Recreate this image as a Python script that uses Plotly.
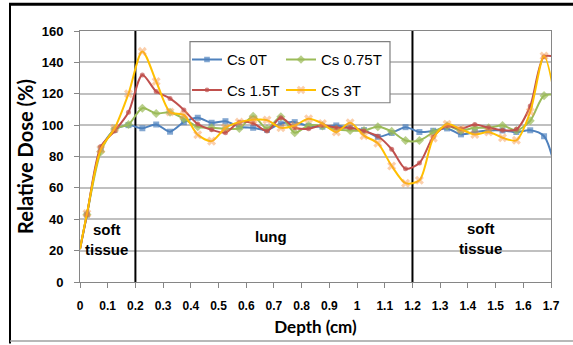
import plotly.graph_objects as go

# ---------------- data ----------------
depth = [0.0, 0.025, 0.075, 0.125, 0.175, 0.225, 0.275, 0.325, 0.375, 0.425, 0.475,
         0.525, 0.575, 0.625, 0.675, 0.725, 0.775, 0.825, 0.875, 0.925, 0.975,
         1.025, 1.075, 1.125, 1.175, 1.225, 1.275, 1.325, 1.375, 1.425, 1.475,
         1.525, 1.575, 1.625, 1.675, 1.725]

cs_0T = [21, 43, 85, 97, 100, 98, 100.4, 95.8, 101.9, 104.7, 101.5, 102.5, 99, 98.3,
         97, 101, 101.9, 99.4, 99, 99.8, 98.3, 96.8, 92.5, 95, 98.7, 95.6, 96.4, 97.9,
         94.1, 95.6, 96.6, 96.6, 95.6, 96.7, 92.9, 65]
cs_075T = [21, 43, 83, 97.5, 100.4, 110.8, 107.4, 108.2, 104, 99, 98.3, 97.7, 97.9,
           105.7, 97.7, 105.3, 95.2, 99.8, 99.5, 97.3, 96.6, 96.6, 99, 96, 90.2, 90.2,
           95.4, 99.5, 96.6, 98.3, 98.3, 99.8, 96.6, 102.8, 118.8, 119]
cs_15T = [21, 43, 86.3, 96.2, 108.2, 132, 121.5, 117, 109.7, 100.7, 97, 95.2, 101.9,
          101.2, 96.2, 104.7, 98.3, 97.7, 100, 98.3, 98.3, 96.2, 92.9, 84.6, 72.2, 75.8,
          92.5, 99.6, 97.7, 100.4, 98.3, 96.8, 97.3, 112.2, 143.6, 143]
cs_3T = [21, 43.6, 84.6, 97.9, 120, 147, 127.8, 108.3, 106.5, 93.8, 89.8, 98.3, 101.9,
         103.4, 103.2, 98.3, 99.8, 104, 101, 95.6, 101.5, 93.3, 88.4, 74, 63, 64.8,
         91.7, 100.6, 97.3, 94.1, 95.6, 92, 90.3, 108.5, 144, 107]

series_names = ["Cs 0T", "Cs 0.75T", "Cs 1.5T", "Cs 3T"]

x_tickvals = [0, 0.1, 0.2, 0.3, 0.4, 0.5, 0.6, 0.7, 0.8, 0.9, 1.0, 1.1, 1.2, 1.3, 1.4, 1.5, 1.6, 1.7]
x_ticktext = ["0", "0.1", "0.2", "0.3", "0.4", "0.5", "0.6", "0.7", "0.8", "0.9", "1",
              "1.1", "1.2", "1.3", "1.4", "1.5", "1.6", "1.7"]
y_tickvals = [0, 20, 40, 60, 80, 100, 120, 140, 160]

boundaries = [0.2, 1.2]
region_labels = ["soft<br>tissue", "lung", "soft<br>tissue"]
region_x = [0.096, 0.69, 1.447]
region_y = [27, 29, 28]

# ---------------- layout geometry ----------------
W, H = 573, 345
ML, MR, MT, MB = 80, 22, 31, 61
PW, PH = W - ML - MR, H - MT - MB


def px_to_paper_x(px):
    return (px - ML) / PW


def px_to_paper_y(py):
    return (H - MB - py) / PH


styles = [
    dict(color="#4F81BD", symbol="square", size=6, mcolor="#4F81BD"),
    dict(color="#9BBB59", symbol="diamond", size=7, mcolor="#9BBB59"),
    dict(color="#C0504D", symbol="circle", size=5, mcolor="#C0504D"),
    dict(color="#FFC000", symbol="x", size=8, mcolor="rgba(247,150,70,0.65)"),
]
series_vals = [cs_0T, cs_075T, cs_15T, cs_3T]
legend_ids = ["legend", "legend2", "legend3", "legend4"]

fig = go.Figure()
n = len(depth)
for name, vals, st, lid in zip(series_names, series_vals, styles, legend_ids):
    sizes = [st["size"]] * n
    sizes[0] = 0
    sizes[-1] = 0
    fig.add_trace(go.Scatter(
        x=depth, y=vals, name=name, mode="lines+markers",
        line=dict(color=st["color"], width=2, shape="spline", smoothing=0.8),
        marker=dict(symbol=st["symbol"], size=sizes, color=st["mcolor"],
                    line=dict(width=0)),
        legend=lid, cliponaxis=True,
    ))

# legend positions (text x targets, row centers) in pixels
text_x = [226, 320, 226, 320]
row_y = [60, 60, 90.7, 90.7]
leg_font = dict(family="Liberation Sans, Arial, sans-serif", size=15, color="black")
legends = {}
for lid, tx, ry in zip(legend_ids, text_x, row_y):
    legends[lid] = dict(
        x=px_to_paper_x(tx - 39), xanchor="left",
        y=px_to_paper_y(ry), yanchor="middle",
        bgcolor="rgba(0,0,0,0)", borderwidth=0, font=leg_font,
        orientation="h", itemclick=False, itemdoubleclick=False,
    )

shapes = []
# legend box
shapes.append(dict(type="rect", xref="paper", yref="paper",
                   x0=px_to_paper_x(190), x1=px_to_paper_x(390),
                   y0=px_to_paper_y(103.3), y1=px_to_paper_y(41.7),
                   line=dict(color="#808080", width=1.2), fillcolor="white",
                   layer="above"))
# region boundaries
for b in boundaries:
    shapes.append(dict(type="line", xref="x", yref="y", x0=b, x1=b, y0=0, y1=160,
                       line=dict(color="black", width=2), layer="between"))
# outer frame of the picture
shapes.append(dict(type="line", xref="paper", yref="paper",
                   x0=px_to_paper_x(9), x1=px_to_paper_x(580),
                   y0=px_to_paper_y(4), y1=px_to_paper_y(4),
                   line=dict(color="black", width=3)))
shapes.append(dict(type="line", xref="paper", yref="paper",
                   x0=px_to_paper_x(10), x1=px_to_paper_x(10),
                   y0=px_to_paper_y(4), y1=px_to_paper_y(346),
                   line=dict(color="black", width=2)))
shapes.append(dict(type="line", xref="paper", yref="paper",
                   x0=px_to_paper_x(10), x1=px_to_paper_x(580),
                   y0=px_to_paper_y(343.5), y1=px_to_paper_y(343.5),
                   line=dict(color="#A0A0A0", width=1.5)))

annotations = []
for lab, ax, ay in zip(region_labels, region_x, region_y):
    annotations.append(dict(x=ax, y=ay, xref="x", yref="y", text=lab, showarrow=False,
                            font=dict(family="Liberation Sans, Arial, sans-serif",
                                      size=15, color="black", weight="bold"),
                            align="center"))

tick_font = dict(family="Liberation Sans, Arial, sans-serif", color="black", weight="bold")
xtitle_font = dict(family="Lato, Liberation Sans, sans-serif", size=17, color="black",
                   weight="bold")
ytitle_font = dict(family="Lato, Liberation Sans, sans-serif", size=20, color="black",
                   weight="bold")

fig.update_layout(
    width=W, height=H,
    margin=dict(l=ML, r=MR, t=MT, b=MB, pad=0),
    paper_bgcolor="white", plot_bgcolor="white",
    showlegend=True,
    shapes=shapes, annotations=annotations,
    xaxis=dict(
        range=[0, 1.7], tickmode="array", tickvals=x_tickvals, ticktext=x_ticktext,
        showgrid=False, zeroline=False, showline=True, linecolor="#868686", linewidth=1,
        mirror=True, ticks="outside", ticklen=5, tickcolor="#868686",
        tickfont=dict(size=12, **tick_font), ticklabelstandoff=8,
        title=dict(text="Depth (cm)", font=xtitle_font, standoff=8),
    ),
    yaxis=dict(
        range=[0, 160], tickmode="array", tickvals=y_tickvals,
        showgrid=True, gridcolor="#C0C0C0", gridwidth=1.5, zeroline=False,
        showline=True, linecolor="#868686", linewidth=1, mirror=True,
        ticks="outside", ticklen=5, tickcolor="#868686",
        tickfont=dict(size=13, **tick_font), ticklabelstandoff=8,
        title=dict(text="Relative Dose (%)", font=ytitle_font, standoff=2),
    ),
    **legends,
)

fig.write_html("out.html", config={"displayModeBar": False},
               post_script="document.body.style.margin='0';document.body.style.overflow='hidden';")
